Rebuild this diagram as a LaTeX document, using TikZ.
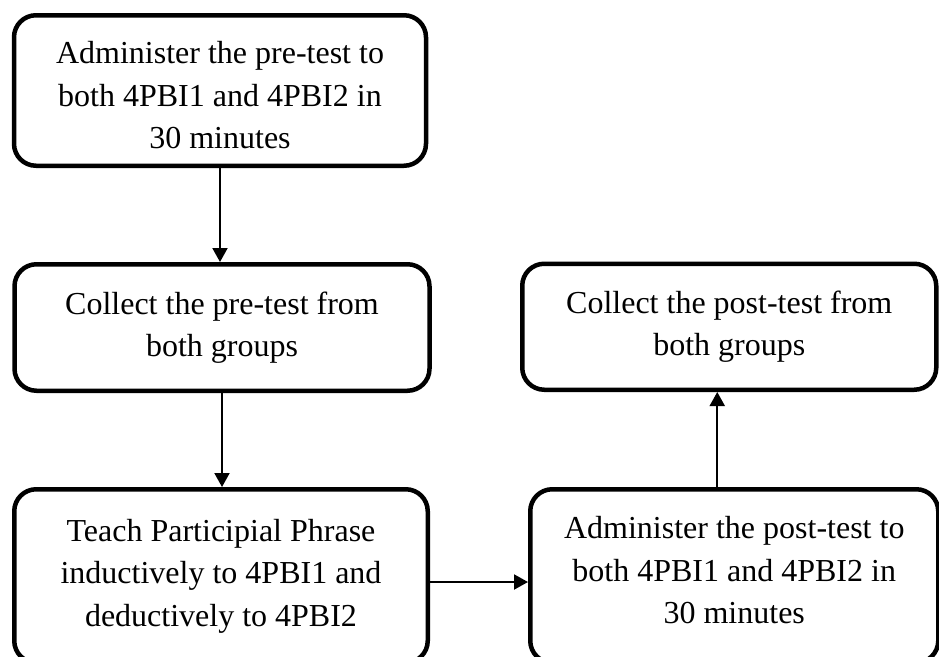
\documentclass[tikz,border=0pt]{standalone}
\usepackage{fontspec}
\setmainfont{Liberation Serif}
\usepackage{tikz}
\usetikzlibrary{shapes,arrows,positioning,calc}
\usetikzlibrary{arrows.meta}
\tikzset{>={Triangle[width=15pt,length=14pt]}}

\begin{document}
\begin{tikzpicture}[x=1pt, y=1pt, every node/.style={text centered, align=center, rectangle, draw, rounded corners=22pt, line width=4.5pt, inner sep=0pt, minimum width=412pt, font=\fontsize{32}{42.5}\selectfont}, node distance=94pt and 98pt]
    \useasboundingbox (0,0) rectangle (939,-656);
    \node[minimum height=150.5pt] (pretest) at (220,-90.5) {\rule{0pt}{32pt}Administer the pre-test to\\both 4PBI1 and 4PBI2 in\\30 minutes};
    \node[below=of pretest, xshift=2pt, minimum width=415pt, minimum height=126.5pt] (collectpre) {Collect the pre-test from\\both groups};
    \node[below=of collectpre, xshift=-1pt, minimum width=413.5pt, minimum height=173.5pt] (teach) {Teach Participial Phrase\\inductively to 4PBI1 and\\deductively to 4PBI2};
    \node[right=of teach, minimum width=408pt, minimum height=173.5pt] (posttest) {Administer the post-test to\\both 4PBI1 and 4PBI2 in\\30 minutes\rule[-12pt]{0pt}{12pt}};
    \node[above=95pt of posttest, xshift=-5pt, minimum width=414pt, minimum height=126pt] (collectpost) {Collect the post-test from\\both groups};

    \coordinate (up) at ([xshift=-17pt]posttest.north);
    \coordinate (mid) at ([yshift=-6pt]teach.east);
    \draw[->, line width=2pt] (pretest.south) -- (pretest.south |- collectpre.north);
    \draw[->, line width=2pt] (collectpre.south) -- (collectpre.south |- teach.north);
    \draw[->, line width=2pt] (mid) -- (mid -| posttest.west);
    \draw[->, line width=2pt] (up) -- (up |- collectpost.south);
\end{tikzpicture}
\end{document}
